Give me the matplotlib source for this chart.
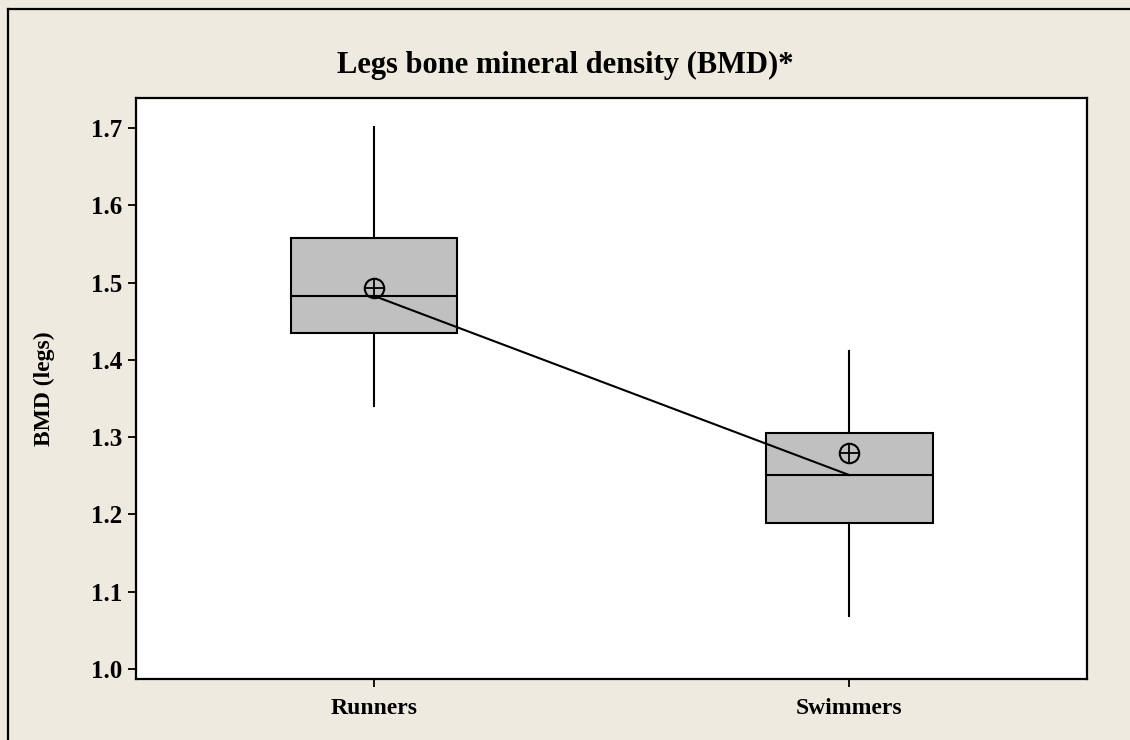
import matplotlib.pyplot as plt
from matplotlib.lines import Line2D

# values
groups = ["Runners", "Swimmers"]
whisker_low = [1.341, 1.068]
q1 = [1.435, 1.189]
median = [1.483, 1.251]
q3 = [1.558, 1.305]
whisker_high = [1.702, 1.411]
mean = [1.493, 1.280]
yticks = [1.0, 1.1, 1.2, 1.3, 1.4, 1.5, 1.6, 1.7]

bg = "#EEEAE0"
plt.rcParams["font.family"] = ["Liberation Serif", "DejaVu Serif"]
plt.rcParams["font.weight"] = "bold"

fig = plt.figure(figsize=(11.3, 7.4), dpi=100, facecolor=bg)
ax = fig.add_axes([0.1204, 0.0824, 0.8416, 0.7851])
ax.set_facecolor("white")

stats = []
for i, name in enumerate(groups):
    stats.append({"label": name, "whislo": whisker_low[i], "q1": q1[i],
                  "med": median[i], "q3": q3[i], "whishi": whisker_high[i],
                  "fliers": []})

pos = list(range(1, len(groups) + 1))
ax.bxp(stats, positions=pos, widths=0.35, patch_artist=True, showcaps=False,
       boxprops=dict(facecolor="#C0C0C0", edgecolor="black", linewidth=1.5),
       medianprops=dict(color="black", linewidth=1.5),
       whiskerprops=dict(color="black", linewidth=1.5))

# median connect line
ax.plot(pos, median, color="black", linewidth=1.5, zorder=3)

# mean symbol: circle with a cross
ax.plot(pos, mean, linestyle="none", marker="o", markersize=14,
        markerfacecolor="none", markeredgecolor="black", markeredgewidth=1.5, zorder=4)
ax.plot(pos, mean, linestyle="none", marker="+", markersize=14,
        markeredgecolor="black", markeredgewidth=1.3, zorder=4)

ax.set_xlim(0.5, 2.5)
ax.set_ylim(0.987, 1.739)
ax.set_yticks(yticks)
ax.set_yticklabels([f"{v:.1f}" for v in yticks])
ax.set_xticks(pos)
ax.set_xticklabels(groups)

for s in ax.spines.values():
    s.set_linewidth(1.6)
    s.set_color("black")

ax.tick_params(axis="y", direction="out", length=6, width=1.3, labelsize=18, pad=4)
ax.tick_params(axis="x", direction="out", length=6, width=1.3, labelsize=17, pad=8)

ax.set_ylabel("BMD (legs)", fontsize=17, fontweight="bold", labelpad=26)
fig.text(0.5, 1 - 65 / 740, "Legs bone mineral density (BMD)*", ha="center", va="center",
         fontsize=22, fontweight="bold")

# outer frame on left and top
fig.add_artist(Line2D([8 / 1130, 8 / 1130], [0, 1 - 9 / 740], color="black", linewidth=1.6,
                      transform=fig.transFigure))
fig.add_artist(Line2D([8 / 1130, 1], [1 - 9 / 740, 1 - 9 / 740], color="black", linewidth=1.6,
                      transform=fig.transFigure))

fig.savefig("out.png", dpi=100, facecolor=bg)
